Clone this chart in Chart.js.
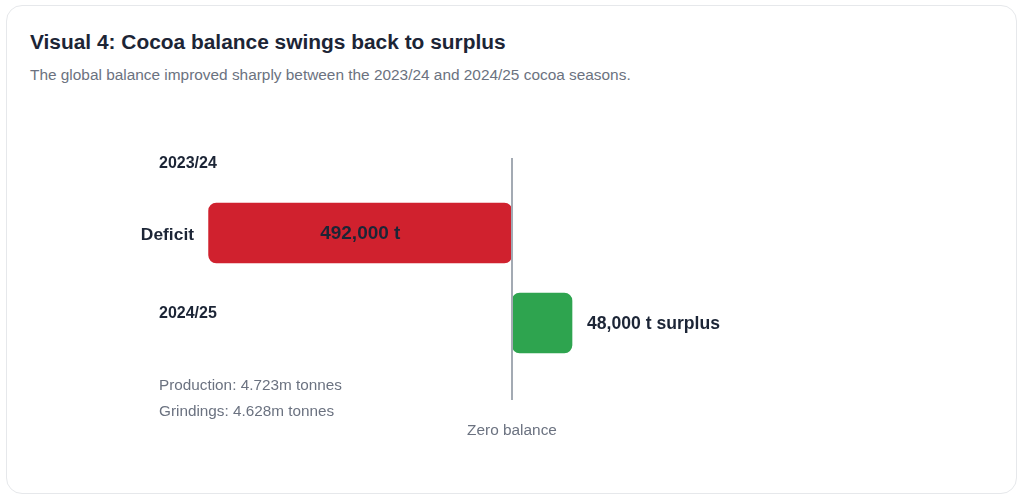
<!DOCTYPE html>
<html>
<head>
<meta charset="utf-8">
<script src="https://cdn.jsdelivr.net/npm/chart.js@4/dist/chart.umd.min.js"></script>
<style>
  html, body { margin: 0; padding: 0; background: #ffffff; }
  body { width: 1024px; height: 501px; position: relative; overflow: hidden;
         font-family: "Liberation Sans", Arial, sans-serif; }
  .card { position: absolute; left: 6px; top: 5px; width: 1011px; height: 489px;
          border: 1px solid #e6e8eb; border-radius: 16px; box-sizing: border-box; }
  h1 { position: absolute; left: 30px; top: 30px; margin: 0; font-size: 20.9px;
       font-weight: bold; color: #1c2536; }
  p.sub { position: absolute; left: 30px; top: 66px; margin: 0; font-size: 15.4px; color: #6b7280; }
  canvas { position: absolute; left: 0; top: 0; }
</style>
</head>
<body>
<div class="card"></div>
<h1>Visual 4: Cocoa balance swings back to surplus</h1>
<p class="sub">The global balance improved sharply between the 2023/24 and 2024/25 cocoa seasons.</p>
<canvas id="balanceChart" width="1024" height="501"></canvas>
<script>
// balance in thousand tonnes
const seasons = ['2023/24', '2024/25'];
const balance = [-492, 48];
const barLabels = ['492,000 t', '48,000 t surplus'];
const rowLabels = ['Deficit', ''];
const barColors = ['#d0212e', '#2ea44f'];
const notes = ['Production: 4.723m tonnes', 'Grindings: 4.628m tonnes'];

const labelPlugin = {
    id: 'labelPlugin',
    afterDatasetsDraw(chart) {
        const ctx = chart.ctx;
        const x = chart.scales.x;
        const y = chart.scales.y;
        const meta = chart.getDatasetMeta(0);
        const zero = x.getPixelForValue(0);

        ctx.save();
        // zero line
        ctx.strokeStyle = '#a3aab3';
        ctx.lineWidth = 2;
        ctx.beginPath();
        ctx.moveTo(zero, chart.chartArea.top - 30);
        ctx.lineTo(zero, chart.chartArea.bottom + 32);
        ctx.stroke();

        ctx.fillStyle = '#6b7280';
        ctx.font = '15.4px "Liberation Sans", Arial, sans-serif';
        ctx.textAlign = 'center';
        ctx.textBaseline = 'middle';
        ctx.fillText('Zero balance', zero, chart.chartArea.bottom + 63);

        // season headers
        ctx.fillStyle = '#1c2536';
        ctx.font = 'bold 16px "Liberation Sans", Arial, sans-serif';
        ctx.textAlign = 'left';
        ctx.fillText(seasons[0], 159, y.getPixelForValue(0) - 69);
        ctx.fillText(seasons[1], 159, y.getPixelForValue(1) - 9);

        // row label
        ctx.font = 'bold 17.4px "Liberation Sans", Arial, sans-serif';
        ctx.textAlign = 'right';
        ctx.fillText(rowLabels[0], 194, y.getPixelForValue(0) + 2);

        // bar values
        meta.data.forEach((bar, i) => {
            ctx.fillStyle = '#1c2536';
            if (balance[i] < 0) {
                ctx.font = 'bold 19px "Liberation Sans", Arial, sans-serif';
                ctx.textAlign = 'center';
                ctx.fillText(barLabels[i], (bar.x + bar.base) / 2, bar.y + 1);
            } else {
                ctx.font = 'bold 17.6px "Liberation Sans", Arial, sans-serif';
                ctx.textAlign = 'left';
                ctx.fillText(barLabels[i], bar.x + 15, bar.y + 1);
            }
        });

        // notes
        ctx.fillStyle = '#6b7280';
        ctx.font = '15.3px "Liberation Sans", Arial, sans-serif';
        ctx.textAlign = 'left';
        notes.forEach((n, i) => {
            ctx.fillText(n, 159, chart.chartArea.bottom + 18 + i * 26);
        });
        ctx.restore();
    }
};

let canvasBalance = document.getElementById('balanceChart');
let ctxBalance = canvasBalance.getContext('2d');

let balanceChart = new Chart(ctxBalance, {
    type: 'bar',
    data: {
        labels: seasons,
        datasets: [{
            data: balance,
            backgroundColor: barColors,
            hoverBackgroundColor: barColors,
            borderRadius: 8,
            borderSkipped: false,
            barThickness: 60,
            minBarLength: 60
        }]
    },
    options: {
        indexAxis: 'y',
        responsive: false,
        animation: false,
        devicePixelRatio: 1,
        layout: {
            padding: { left: 142, right: 142, top: 188, bottom: 133 }
        },
        plugins: {
            legend: { display: false },
            tooltip: { enabled: false }
        },
        scales: {
            x: {
                display: false,
                min: -600,
                max: 600
            },
            y: {
                display: false
            }
        }
    },
    plugins: [labelPlugin]
});
</script>
</body>
</html>
